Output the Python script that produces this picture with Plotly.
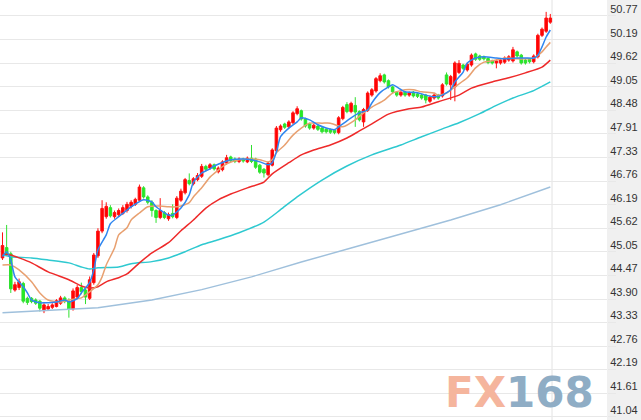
import plotly.graph_objects as go

# ---- candle data (price) ----
open_ = [44.90,45.15,45.00,44.12,44.18,44.28,43.92,43.92,43.88,43.85,
         43.62,43.66,43.70,43.72,43.80,43.93,43.85,43.66,43.95,44.18,
         44.12,43.92,44.30,44.95,45.55,45.90,46.12,45.90,45.95,45.98,
         46.05,46.15,46.20,46.30,46.60,46.38,46.25,46.05,45.88,46.00,
         45.85,45.98,45.88,46.30,46.48,46.78,46.70,46.80,46.88,47.12,
         47.08,47.16,46.99,47.04,47.20,47.35,47.30,47.24,47.30,47.23,
         47.32,47.30,47.15,47.05,46.92,47.15,47.50,48.01,48.15,48.08,
         48.18,48.40,48.47,48.27,48.15,48.05,48.10,48.05,48.02,48.01,
         48.00,47.94,48.28,48.62,48.45,48.60,48.45,48.20,48.48,48.85,
         48.95,49.20,49.34,49.20,49.05,48.92,48.85,48.92,48.85,48.92,
         48.88,48.85,48.85,48.70,48.78,48.85,48.83,49.34,49.10,49.05,
         49.40,49.58,49.46,49.58,49.85,49.80,49.78,49.74,49.68,49.63,
         49.63,49.65,49.70,49.68,49.90,49.82,49.70,49.72,49.66,49.78,
         50.30,50.40,50.62]
high = [45.52,45.70,45.05,44.32,44.40,44.32,43.96,43.95,43.92,43.88,
        43.80,43.78,43.80,43.90,43.98,43.97,43.92,44.16,44.24,44.30,
        44.16,44.45,45.02,45.62,46.30,46.25,46.18,46.05,46.10,46.18,
        46.26,46.30,46.36,46.68,46.64,46.42,46.30,46.08,46.35,46.04,
        46.00,46.20,46.40,46.58,46.84,46.95,46.86,46.96,47.18,47.16,
        47.20,47.19,47.12,47.27,47.40,47.38,47.34,47.34,47.33,47.36,
        47.64,47.33,47.18,47.08,47.24,47.56,48.10,48.14,48.18,48.24,
        48.46,48.58,48.50,48.30,48.18,48.16,48.13,48.08,48.05,48.04,
        48.03,48.34,48.59,48.68,48.69,48.80,48.48,48.54,48.94,49.02,
        49.29,49.38,49.37,49.23,49.08,48.95,48.96,48.95,48.94,48.95,
        48.91,48.88,48.88,48.84,48.89,48.88,49.14,49.40,49.34,49.67,
        49.70,49.61,49.64,49.86,49.88,49.83,49.81,49.77,49.71,49.72,
        49.74,49.79,49.82,50.02,49.93,49.85,49.73,49.75,49.84,50.34,
        50.49,50.87,50.82]
low = [44.85,44.95,44.05,44.08,44.12,43.80,43.76,43.80,43.76,43.60,
       43.56,43.62,43.66,43.70,43.76,43.80,43.45,43.62,43.90,44.02,
       43.78,43.88,44.25,44.90,45.50,45.85,45.88,45.85,45.90,45.94,
       46.00,46.10,46.16,46.26,46.34,46.20,45.90,45.75,45.84,45.84,
       45.80,45.86,45.84,46.26,46.44,46.66,46.66,46.76,46.84,47.00,
       47.04,47.02,46.95,47.00,47.16,47.22,47.20,47.20,47.21,47.20,
       47.20,47.06,46.94,46.85,46.88,47.12,47.46,47.96,48.03,48.04,
       48.14,48.36,48.23,48.06,48.01,48.01,47.98,47.92,47.92,47.91,
       47.90,47.90,48.24,48.41,48.41,48.08,48.21,48.08,48.44,48.81,
       48.91,49.16,49.13,49.01,48.89,48.81,48.81,48.81,48.81,48.79,
       48.78,48.74,48.65,48.66,48.74,48.74,48.79,49.08,48.73,48.70,
       49.36,49.46,49.42,49.54,49.68,49.68,49.69,49.60,49.59,49.50,
       49.59,49.61,49.66,49.64,49.76,49.59,49.59,49.62,49.62,49.74,
       50.26,50.36,50.58]
close = [45.20,45.00,44.15,44.25,44.32,43.85,43.82,43.84,43.80,43.68,
         43.76,43.72,43.76,43.86,43.93,43.85,43.66,44.10,44.18,44.08,
         43.95,44.37,44.97,45.55,46.10,46.15,45.92,46.00,46.05,46.12,
         46.20,46.25,46.32,46.62,46.38,46.25,46.05,45.88,46.05,45.88,
         45.95,45.90,46.35,46.52,46.80,46.70,46.82,46.90,47.12,47.05,
         47.16,47.06,47.08,47.23,47.33,47.25,47.24,47.30,47.25,47.32,
         47.24,47.10,46.98,46.96,47.20,47.52,48.05,48.10,48.07,48.20,
         48.42,48.52,48.27,48.10,48.05,48.12,48.02,47.96,47.96,47.95,
         47.94,48.30,48.55,48.45,48.65,48.44,48.25,48.50,48.90,48.98,
         49.25,49.32,49.17,49.05,48.93,48.85,48.92,48.85,48.90,48.83,
         48.82,48.78,48.73,48.80,48.85,48.78,49.10,49.12,49.30,49.63,
         49.62,49.50,49.60,49.82,49.72,49.72,49.73,49.64,49.63,49.68,
         49.70,49.75,49.78,49.95,49.80,49.63,49.63,49.66,49.80,50.30,
         50.45,50.72,50.72]

# ---- moving averages (candle index, value) ----
ma5_idx = [0,1,2,3,5,6,7,9,10,13,15,16,18,19,21,22,23,25,26,28,31,34,36,37,40,41,43,45,46,48,50,51,
           55,58,60,62,64,65,66,67,69,71,72,74,76,78,80,81,84,86,88,89,91,93,94,95,97,100,102,104,106,
           108,109,111,112,114,116,119,121,124,126,128,129,130,131,132]
ma5_val = [44.93,45.05,44.85,44.44,44.20,44.05,43.88,43.81,43.81,43.83,43.88,43.83,43.91,44.05,44.30,
           44.61,45.10,45.46,45.73,45.90,46.14,46.31,46.26,46.14,45.94,45.94,46.11,46.43,46.74,46.96,
           47.06,47.13,47.28,47.30,47.28,47.23,47.16,47.21,47.47,47.84,48.05,48.20,48.30,48.25,48.13,
           48.05,48.01,48.08,48.30,48.42,48.49,48.66,48.91,49.05,49.10,49.05,48.93,48.91,48.85,48.81,
           48.85,48.98,49.17,49.41,49.63,49.75,49.78,49.75,49.73,49.75,49.75,49.75,49.82,50.02,50.26,50.43]

ma10_idx = [0,2,4,7,9,11,14,16,19,20,23,24,25,27,28,30,31,33,35,38,40,42,43,45,46,48,50,52,54,57,60,62,
            64,65,66,68,70,72,74,77,79,81,82,85,87,89,92,94,97,99,101,104,105,107,109,112,114,116,119,
            121,124,126,128,130,131,132]
ma10_val = [44.73,44.73,44.61,44.32,44.05,43.88,43.83,43.88,43.93,44.00,44.25,44.44,44.73,45.14,45.46,
            45.63,45.82,45.99,46.14,46.16,46.14,46.14,46.16,46.24,46.38,46.60,46.86,47.03,47.18,47.28,
            47.30,47.28,47.23,47.28,47.45,47.64,47.88,48.05,48.17,48.17,48.17,48.10,48.08,48.25,48.42,
            48.56,48.73,48.90,48.98,48.98,48.93,48.90,48.85,48.90,49.05,49.27,49.51,49.65,49.70,49.75,
            49.73,49.73,49.75,49.90,50.02,50.13]

ma20_idx = [0,2,4,7,11,16,19,21,23,25,28,30,33,36,40,43,46,49,52,55,59,63,65,69,72,75,79,83,86,89,93,98,
            101,105,110,113,118,122,126,130,132]
ma20_val = [45.00,44.97,44.90,44.78,44.56,44.37,44.22,44.17,44.20,44.32,44.42,44.51,44.78,45.02,45.27,
            45.56,45.82,46.11,46.31,46.45,46.60,46.74,46.94,47.21,47.40,47.52,47.64,47.81,47.98,48.15,
            48.39,48.52,48.56,48.69,48.85,49.02,49.17,49.27,49.39,49.53,49.70]

ma60_idx = [0,2,7,11,16,19,21,23,28,31,36,40,44,48,52,57,63,67,71,77,83,89,96,101,106,110,115,119,123,128,132]
ma60_val = [44.97,44.93,44.90,44.85,44.78,44.68,44.63,44.66,44.68,44.76,44.81,44.90,45.05,45.22,45.34,
            45.51,45.77,46.07,46.38,46.79,47.13,47.40,47.64,47.84,48.03,48.18,48.40,48.60,48.78,48.96,49.17]

ma120_idx = [0,11,23,36,48,60,72,84,96,108,120,132]
ma120_val = [43.57,43.62,43.69,43.88,44.13,44.44,44.80,45.14,45.48,45.82,46.19,46.62]

tick_labels = ["50.77","50.19","49.62","49.05","48.48","47.91","47.33","46.76","46.19",
               "45.62","45.05","44.47","43.90","43.33","42.76","42.19","41.61","41.04"]

x = list(range(len(close)))

fig = go.Figure()
fig.add_trace(go.Scatter(x=ma120_idx, y=ma120_val, mode="lines",
                         line=dict(color="#9fc0dc", width=1.4), hoverinfo="skip"))
fig.add_trace(go.Scatter(x=ma60_idx, y=ma60_val, mode="lines",
                         line=dict(color="#2ec9d0", width=1.5, shape="spline", smoothing=0.6), hoverinfo="skip"))
fig.add_trace(go.Scatter(x=ma20_idx, y=ma20_val, mode="lines",
                         line=dict(color="#ee2a2a", width=1.5, shape="spline", smoothing=0.6), hoverinfo="skip"))
fig.add_trace(go.Candlestick(
    x=x, open=open_, high=high, low=low, close=close,
    increasing=dict(line=dict(color="#ff1010", width=1), fillcolor="#ff0000"),
    decreasing=dict(line=dict(color="#30e030", width=1), fillcolor="#22ee22"),
    whiskerwidth=0, hoverinfo="skip"))
fig.add_trace(go.Scatter(x=ma10_idx, y=ma10_val, mode="lines",
                         line=dict(color="#e8a070", width=1.5, shape="spline", smoothing=0.6), hoverinfo="skip"))
fig.add_trace(go.Scatter(x=ma5_idx, y=ma5_val, mode="lines",
                         line=dict(color="#2f86f0", width=1.5, shape="spline", smoothing=0.6), hoverinfo="skip"))

fig.add_shape(type="line", xref="paper", yref="paper", x0=0.9094, x1=0.9094, y0=0, y1=1,
              line=dict(color="#e2e2e2", width=1), layer="below")

fig.add_annotation(
    xref="paper", yref="paper", x=0.8565, y=0.066, xanchor="center", yanchor="middle",
    text="<b><span style='color:#f5b59d'>FX</span><span style='color:#8fadc5'>168</span></b>",
    showarrow=False, font=dict(family="DejaVu Sans", size=42))

fig.update_layout(
    width=641, height=420,
    margin=dict(l=0, r=34, t=0, b=0),
    paper_bgcolor="#f0f0f0", plot_bgcolor="#ffffff",
    showlegend=False, boxgap=0.12,
    xaxis=dict(range=[-0.6, 145.66], showgrid=False, zeroline=False, showticklabels=False,
               rangeslider=dict(visible=False), fixedrange=True),
    yaxis=dict(range=[40.967, 51.158], side="right", tickvals=[float(t) for t in tick_labels],
               ticktext=tick_labels, showgrid=True, gridcolor="#e8e8e8", gridwidth=1,
               zeroline=False, ticks="outside", ticklen=8, tickcolor="#e8e8e8",
               ticklabelshift=-7, ticklabelstandoff=-8,
               tickfont=dict(family="Liberation Sans, Arial", size=11, color="#333333"),
               fixedrange=True),
)

fig.write_html("out.html", config={"displayModeBar": False},
               post_script="document.body.style.margin='0';document.body.style.overflow='hidden';")
